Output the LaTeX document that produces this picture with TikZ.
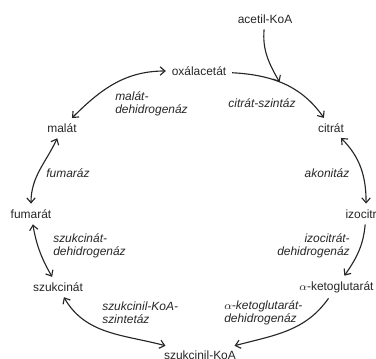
\documentclass[tikz,border=0pt]{standalone}
\usepackage{fontspec}
\setmainfont{Liberation Sans}
\usetikzlibrary{arrows.meta}
\begin{document}
\begin{tikzpicture}[>={Straight Barb[length=3.5pt,width=6pt]}, x=0.025cm, y=0.025cm]
    \useasboundingbox (0,0) rectangle (376,358);
    \clip (0,0) rectangle (376,358);

    % Define styles
    \tikzstyle{metab}=[inner sep=3pt, text=black!85, font=\fontsize{8.5}{9.3}\selectfont]
    \tikzstyle{enzyme}=[inner sep=0pt, align=left, text=black!85, font=\fontsize{8.5}{9.3}\selectfont\itshape]
    \tikzstyle{reac}=[line width=0.8pt, draw=black!85, shorten <=1pt, shorten >=1pt]

    \node[metab] (acetil) at (265,339) {acetil-KoA};
    \node[metab] (oxal) at (199,287) {oxálacetát};
    \node[metab] (citrat) at (331,230) {citrát};
    \node[metab] (malat) at (62,230) {malát};
    \node[metab] (fumarat) at (31,144) {fumarát};
    \node[metab, anchor=west] (izocitrat) at (341,144) {izocitrát};
    \node[metab] (szukcinat) at (58,71) {szukcinát};
    \node[metab, anchor=east] (ketoglut) at (378,71) {$\alpha$-ketoglutarát};
    \node[metab] (szkoa) at (200,3) {szukcinil-KoA};

    \node[enzyme, anchor=west] (malatdh) at (115,254) {malát-\\dehidrogenáz};
    \node[enzyme] (citratsz) at (262,255) {citrát-szintáz};
    \node[enzyme] (fumaraz) at (68,185) {fumaráz};
    \node[enzyme] (akonitaz) at (327,185) {akonitáz};
    \node[enzyme, anchor=west] (szukcinatdh) at (53,112) {szukcinát-\\dehidrogenáz};
    \node[enzyme, anchor=east, align=right] (izocitratdh) at (350,112) {izocitrát-\\dehidrogenáz};
    \node[enzyme, anchor=west] (szkoasz) at (102,45) {szukcinil-KoA-\\szintetáz};
    \node[enzyme, anchor=west] (ketoglutdh) at (224,45) {$\alpha$-ketoglutarát-\\dehidrogenáz};

    \draw[reac, <->] (oxal) to[out=180, in=45] (malat);
    \draw[reac, ->] (oxal) to[out=-3, in=125] coordinate[pos=0.45] (join) (citrat);
    \draw[reac, ->, shorten >=0pt] (acetil) to[out=-95, in=120] (join);
    \draw[reac, <->] (citrat) to[out=-45, in=90] (izocitrat);
    \draw[reac, ->] (izocitrat) to[out=-95, in=55] (ketoglut);
    \draw[reac, ->] (ketoglut) to[out=-125, in=15] (szkoa);
    \draw[reac, <->] (szukcinat) to[out=-60, in=165] (szkoa);
    \draw[reac, <->] (fumarat) to[out=-80, in=120] (szukcinat);
    \draw[reac, <->] (malat) to[out=-115, in=90] (fumarat);
\end{tikzpicture}
\end{document}
